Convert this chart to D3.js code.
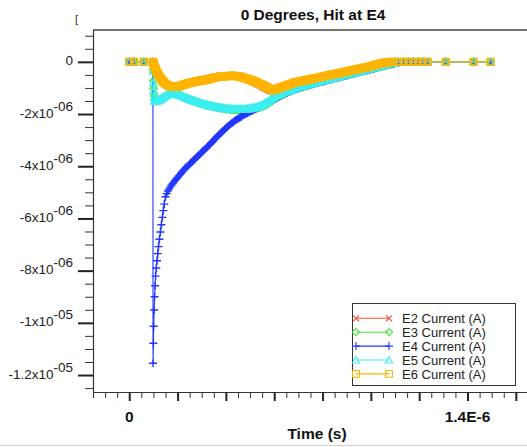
<!DOCTYPE html>
<html>
<head>
<meta charset="utf-8">
<script src="https://cdn.jsdelivr.net/npm/d3@7"></script>
<style>
  html, body { margin: 0; padding: 0; background: #fff; }
  svg { display: block; font-family: "Liberation Sans", Arial, Helvetica, sans-serif; }
</style>
</head>
<body>
<svg id="chart" width="527" height="447"></svg>
<script>
// Sample times (ns) shared by every electrode trace
const timeNs = [0, 20, 60, 98,
  98.5, 100, 101, 103, 105, 107, 109, 112, 115, 118, 121, 125, 129, 133, 137, 141, 145, 150,
  155, 160, 165, 170, 175, 180, 185, 190, 195, 200,
  205, 210, 215, 220, 225, 230, 235, 240, 245, 250,
  255, 260, 265, 270, 275, 280, 285, 290, 295, 300,
  305, 310, 315, 320, 325, 330, 335, 340, 345, 350,
  355, 360, 365, 370, 375, 380, 385, 390, 395, 400,
  405, 410, 415, 420, 425, 430, 435, 440, 445, 450,
  455, 460, 465, 470, 475, 480, 485, 490, 495, 500,
  505, 510, 515, 520, 525, 530, 535, 540, 545, 550,
  555, 560, 565, 570, 575, 580, 585, 590, 595, 600,
  607.5, 615, 622.5, 630, 637.5, 645, 652.5, 660, 667.5, 675,
  682.5, 690, 697.5, 705, 712.5, 720, 727.5, 735, 742.5, 750,
  757.5, 765, 772.5, 780, 787.5, 795, 802.5, 810, 817.5, 825,
  832.5, 840, 847.5, 855, 862.5, 870, 877.5, 885, 892.5, 900,
  907.5, 915, 922.5, 930, 937.5, 945, 952.5, 960, 967.5, 975,
  982.5, 990, 997.5, 1005, 1012.5, 1020, 1027.5, 1035, 1042.5, 1050,
  1057.5, 1065, 1072.5, 1080, 1087.5, 1095,
  1115, 1135, 1155, 1175, 1195, 1215, 1235, 1310, 1425, 1495];

// Electrode currents (µA)
const e2uA = [0, 0, 0, 0,
  -0.04, -0.07, -0.10, -0.15, -0.20, -0.25, -0.29, -0.35, -0.41, -0.46, -0.51, -0.57, -0.63, -0.68, -0.73, -0.77, -0.81, -0.85,
  -0.88, -0.91, -0.93, -0.95, -0.96, -0.97, -0.97, -0.97, -0.96, -0.95,
  -0.94, -0.92, -0.91, -0.89, -0.87, -0.85, -0.84, -0.82, -0.81, -0.79,
  -0.78, -0.77, -0.76, -0.75, -0.74, -0.73, -0.72, -0.71, -0.70, -0.69,
  -0.68, -0.67, -0.66, -0.65, -0.64, -0.63, -0.62, -0.60, -0.59, -0.58,
  -0.57, -0.56, -0.55, -0.54, -0.54, -0.53, -0.53, -0.52, -0.52, -0.51,
  -0.51, -0.51, -0.51, -0.51, -0.51, -0.52, -0.52, -0.53, -0.54, -0.55,
  -0.56, -0.57, -0.58, -0.60, -0.62, -0.64, -0.66, -0.68, -0.70, -0.72,
  -0.74, -0.76, -0.78, -0.80, -0.83, -0.85, -0.88, -0.90, -0.93, -0.95,
  -0.98, -1.00, -1.03, -1.05, -1.08, -1.10, -1.12, -1.13, -1.13, -1.12,
  -1.09, -1.06, -1.03, -1.00, -0.97, -0.94, -0.92, -0.89, -0.87, -0.84,
  -0.82, -0.80, -0.78, -0.76, -0.75, -0.73, -0.72, -0.70, -0.69, -0.67,
  -0.66, -0.64, -0.63, -0.62, -0.60, -0.59, -0.57, -0.56, -0.54, -0.53,
  -0.51, -0.50, -0.48, -0.47, -0.45, -0.44, -0.42, -0.41, -0.39, -0.38,
  -0.36, -0.35, -0.33, -0.32, -0.30, -0.29, -0.27, -0.26, -0.24, -0.23,
  -0.21, -0.20, -0.18, -0.16, -0.14, -0.13, -0.11, -0.09, -0.07, -0.06,
  -0.04, -0.03, -0.02, -0.01, 0, 0,
  0, 0, 0, 0, 0, 0, 0, 0, 0, 0];

const e3uA = [0, 0, 0, 0,
  -0.30, -0.72, -1.02, -1.30, -1.43, -1.48, -1.50, -1.51, -1.50, -1.49, -1.48, -1.47, -1.45, -1.43, -1.40, -1.37, -1.34, -1.31,
  -1.28, -1.26, -1.24, -1.23, -1.22, -1.22, -1.22, -1.23, -1.24, -1.26,
  -1.27, -1.29, -1.31, -1.33, -1.35, -1.37, -1.39, -1.41, -1.43, -1.44,
  -1.46, -1.48, -1.49, -1.51, -1.53, -1.54, -1.56, -1.57, -1.59, -1.60,
  -1.62, -1.63, -1.65, -1.66, -1.67, -1.68, -1.69, -1.70, -1.71, -1.72,
  -1.73, -1.74, -1.75, -1.76, -1.77, -1.77, -1.78, -1.79, -1.80, -1.80,
  -1.81, -1.81, -1.82, -1.82, -1.83, -1.83, -1.83, -1.83, -1.84, -1.84,
  -1.84, -1.84, -1.84, -1.84, -1.84, -1.84, -1.84, -1.83, -1.83, -1.82,
  -1.82, -1.81, -1.80, -1.79, -1.78, -1.77, -1.76, -1.75, -1.74, -1.72,
  -1.70, -1.68, -1.66, -1.63, -1.60, -1.57, -1.54, -1.50, -1.47, -1.43,
  -1.39, -1.35, -1.32, -1.28, -1.25, -1.21, -1.18, -1.15, -1.12, -1.09,
  -1.07, -1.04, -1.02, -0.99, -0.97, -0.95, -0.93, -0.91, -0.89, -0.87,
  -0.85, -0.83, -0.81, -0.79, -0.77, -0.75, -0.74, -0.72, -0.70, -0.68,
  -0.67, -0.65, -0.63, -0.61, -0.60, -0.58, -0.56, -0.54, -0.53, -0.51,
  -0.49, -0.47, -0.46, -0.44, -0.42, -0.40, -0.39, -0.37, -0.35, -0.33,
  -0.32, -0.30, -0.28, -0.26, -0.25, -0.23, -0.21, -0.19, -0.18, -0.16,
  -0.14, -0.12, -0.11, -0.09, -0.08, -0.06,
  -0.02, 0, 0, 0, 0, 0, 0, 0, 0, 0];

const e4uA = [0, 0, 0, 0,
  -11.55, -10.78, -10.13, -9.51, -9.00, -8.58, -8.21, -7.90, -7.62, -7.35, -7.08, -6.80, -6.52, -6.24, -5.96, -5.70, -5.45, -5.17,
  -5.05, -4.95, -4.87, -4.79, -4.72, -4.66, -4.60, -4.54, -4.48, -4.43,
  -4.37, -4.32, -4.26, -4.20, -4.15, -4.10, -4.05, -4.01, -3.96, -3.92,
  -3.87, -3.83, -3.78, -3.74, -3.69, -3.65, -3.60, -3.56, -3.51, -3.47,
  -3.42, -3.38, -3.33, -3.29, -3.24, -3.20, -3.15, -3.10, -3.05, -3.00,
  -2.95, -2.90, -2.85, -2.81, -2.76, -2.72, -2.67, -2.63, -2.58, -2.54,
  -2.50, -2.46, -2.42, -2.38, -2.34, -2.31, -2.27, -2.24, -2.21, -2.18,
  -2.15, -2.12, -2.09, -2.06, -2.03, -2.01, -1.98, -1.96, -1.93, -1.91,
  -1.88, -1.86, -1.84, -1.82, -1.79, -1.77, -1.74, -1.72, -1.70, -1.68,
  -1.65, -1.63, -1.60, -1.58, -1.55, -1.53, -1.50, -1.48, -1.45, -1.43,
  -1.40, -1.36, -1.33, -1.29, -1.26, -1.22, -1.19, -1.16, -1.13, -1.10,
  -1.07, -1.05, -1.02, -1.00, -0.98, -0.96, -0.94, -0.92, -0.90, -0.88,
  -0.86, -0.84, -0.82, -0.80, -0.78, -0.76, -0.75, -0.73, -0.71, -0.69,
  -0.68, -0.66, -0.64, -0.62, -0.61, -0.59, -0.57, -0.55, -0.54, -0.52,
  -0.50, -0.48, -0.47, -0.45, -0.43, -0.41, -0.40, -0.38, -0.36, -0.34,
  -0.33, -0.31, -0.29, -0.27, -0.26, -0.24, -0.22, -0.20, -0.19, -0.17,
  -0.15, -0.13, -0.12, -0.10, -0.09, -0.07,
  -0.03, -0.01, 0, 0, 0, 0, 0, 0, 0, 0];

const e5uA = [0, 0, 0, 0,
  -0.35, -0.80, -1.10, -1.35, -1.46, -1.49, -1.50, -1.50, -1.49, -1.48, -1.47, -1.46, -1.44, -1.42, -1.39, -1.36, -1.33, -1.30,
  -1.27, -1.25, -1.23, -1.22, -1.21, -1.21, -1.21, -1.22, -1.23, -1.25,
  -1.26, -1.28, -1.30, -1.32, -1.34, -1.36, -1.38, -1.40, -1.42, -1.43,
  -1.45, -1.47, -1.48, -1.50, -1.52, -1.53, -1.55, -1.56, -1.58, -1.59,
  -1.61, -1.62, -1.64, -1.65, -1.66, -1.67, -1.68, -1.69, -1.70, -1.71,
  -1.72, -1.73, -1.74, -1.75, -1.76, -1.76, -1.77, -1.78, -1.79, -1.79,
  -1.80, -1.80, -1.81, -1.81, -1.81, -1.82, -1.82, -1.82, -1.82, -1.82,
  -1.82, -1.82, -1.82, -1.82, -1.82, -1.81, -1.81, -1.80, -1.80, -1.79,
  -1.78, -1.77, -1.76, -1.75, -1.74, -1.73, -1.72, -1.70, -1.68, -1.66,
  -1.64, -1.61, -1.58, -1.55, -1.52, -1.48, -1.45, -1.41, -1.38, -1.34,
  -1.31, -1.28, -1.25, -1.22, -1.19, -1.16, -1.13, -1.10, -1.08, -1.05,
  -1.02, -1.00, -0.98, -0.96, -0.94, -0.92, -0.90, -0.88, -0.86, -0.84,
  -0.82, -0.80, -0.78, -0.77, -0.75, -0.73, -0.71, -0.70, -0.68, -0.66,
  -0.64, -0.63, -0.61, -0.59, -0.57, -0.56, -0.54, -0.52, -0.50, -0.49,
  -0.47, -0.45, -0.43, -0.42, -0.40, -0.38, -0.36, -0.35, -0.33, -0.31,
  -0.29, -0.28, -0.26, -0.24, -0.22, -0.21, -0.19, -0.17, -0.15, -0.14,
  -0.12, -0.10, -0.08, -0.07, -0.05, -0.04,
  -0.01, 0, 0, 0, 0, 0, 0, 0, 0, 0];

const e6uA = [0, 0, 0, 0,
  -0.03, -0.06, -0.09, -0.14, -0.19, -0.24, -0.28, -0.34, -0.40, -0.45, -0.50, -0.56, -0.62, -0.67, -0.72, -0.76, -0.80, -0.84,
  -0.87, -0.90, -0.92, -0.94, -0.95, -0.96, -0.96, -0.96, -0.96, -0.95,
  -0.94, -0.92, -0.91, -0.89, -0.88, -0.86, -0.85, -0.83, -0.82, -0.81,
  -0.80, -0.79, -0.78, -0.77, -0.76, -0.75, -0.74, -0.73, -0.72, -0.72,
  -0.71, -0.70, -0.69, -0.68, -0.67, -0.66, -0.65, -0.63, -0.62, -0.61,
  -0.60, -0.59, -0.58, -0.58, -0.57, -0.57, -0.56, -0.56, -0.55, -0.55,
  -0.55, -0.55, -0.54, -0.54, -0.54, -0.54, -0.54, -0.55, -0.55, -0.56,
  -0.56, -0.57, -0.58, -0.60, -0.61, -0.63, -0.64, -0.66, -0.67, -0.69,
  -0.70, -0.72, -0.74, -0.76, -0.78, -0.80, -0.82, -0.84, -0.86, -0.88,
  -0.90, -0.93, -0.95, -0.98, -1.00, -1.03, -1.05, -1.07, -1.08, -1.08,
  -1.06, -1.03, -1.00, -0.97, -0.95, -0.92, -0.90, -0.87, -0.85, -0.82,
  -0.80, -0.78, -0.77, -0.75, -0.74, -0.72, -0.71, -0.69, -0.68, -0.66,
  -0.65, -0.63, -0.62, -0.61, -0.59, -0.58, -0.56, -0.55, -0.53, -0.52,
  -0.50, -0.49, -0.47, -0.46, -0.44, -0.43, -0.41, -0.40, -0.38, -0.37,
  -0.35, -0.34, -0.32, -0.31, -0.29, -0.28, -0.26, -0.25, -0.23, -0.22,
  -0.20, -0.19, -0.17, -0.15, -0.13, -0.12, -0.10, -0.08, -0.06, -0.05,
  -0.03, -0.02, -0.01, -0.01, 0, 0,
  0, 0, 0, 0, 0, 0, 0, 0, 0, 0];

const seriesNames = ["E2 Current (A)", "E3 Current (A)", "E4 Current (A)", "E5 Current (A)", "E6 Current (A)"];
const seriesValues = [e2uA, e3uA, e4uA, e5uA, e6uA];
const seriesColors = ["#ff4a32", "#46e83a", "#2236ff", "#3ceef0", "#ffb400"];
const seriesMarkers = ["cross", "diamond", "plus", "triangle", "square"];

// Axis ticks and their labels
const yMajorTicks = [0, -2e-6, -4e-6, -6e-6, -8e-6, -1e-5, -1.2e-5];
const yTickBase = ["0", "-2x10", "-4x10", "-6x10", "-8x10", "-1x10", "-1.2x10"];
const yTickExp = ["", "-06", "-06", "-06", "-06", "-05", "-05"];
const xLabelValues = [0, 1.4e-6];
const xLabelTexts = ["0", "1.4E-6"];

const chartTitle = "0 Degrees, Hit at E4";
const xTitle = "Time (s)";

const svg = d3.select("#chart");
const W = 527;
const plot = { left: 93, top: 30, bottom: 392, right: 540 };

const x = d3.scaleLinear().domain([-1.5e-7, 1.7e-6]).range([plot.left, plot.right]);
const y = d3.scaleLinear().domain([1.22e-6, -1.265e-5]).range([plot.top, plot.bottom]);

const markerPath = {
  cross: "M-3,-3L3,3M-3,3L3,-3",
  diamond: "M0,-3.6L3.6,0L0,3.6L-3.6,0Z",
  plus: "M-4,0H4M0,-4V4",
  triangle: "M0,-3.6L3.6,3L-3.6,3Z",
  square: "M-3.4,-3.4H3.4V3.4H-3.4Z"
};

// bottom window rule
svg.append("line").attr("x1", 0).attr("x2", W).attr("y1", 445.5).attr("y2", 445.5)
  .attr("stroke", "#d0d0d0").attr("stroke-width", 1);

// Title and the clipped axis-label fragment at top-left
svg.append("text").attr("x", 313).attr("y", 20).attr("text-anchor", "middle")
  .attr("font-size", 15.5).attr("font-weight", "bold").attr("fill", "#111").text(chartTitle);
svg.append("text").attr("x", 75).attr("y", 23).attr("font-size", 11).attr("fill", "#333").text("[");

// Frame top edge
svg.append("line").attr("x1", plot.left).attr("x2", W).attr("y1", plot.top).attr("y2", plot.top)
  .attr("stroke", "#444").attr("stroke-width", 1.5);

// ---- Y axis ----
const yMinor = d3.range(-25, 3).map(k => k * 5e-7).filter(v => !yMajorTicks.some(m => Math.abs(m - v) < 1e-12));
const yAxisMinor = svg.append("g").attr("transform", `translate(${plot.left},0)`)
  .call(d3.axisLeft(y).tickValues(yMinor).tickSize(8).tickFormat(""));
yAxisMinor.select(".domain").remove();
yAxisMinor.selectAll(".tick line").attr("stroke", "#333").attr("stroke-width", 1);

const yAxisMajor = svg.append("g").attr("transform", `translate(${plot.left},0)`)
  .call(d3.axisLeft(y).tickValues(yMajorTicks).tickSize(15).tickSizeOuter(0).tickFormat(""));
yAxisMajor.select(".domain").attr("stroke", "#333").attr("stroke-width", 1.2);
yAxisMajor.selectAll(".tick line").attr("stroke", "#222").attr("stroke-width", 2);

const yLab = svg.append("g").attr("font-size", 13.5).attr("fill", "#222");
yMajorTicks.forEach((v, i) => {
  const t = yLab.append("text").attr("x", 73).attr("y", y(v) + 3.5).attr("text-anchor", "end");
  t.append("tspan").text(yTickBase[i]);
  if (yTickExp[i]) t.append("tspan").attr("dy", -7).text(yTickExp[i]);
});

// ---- X axis ----
const xMajor = d3.range(0, 9).map(k => k * 2e-7);
const xMinor = d3.range(-3, 34).map(k => k * 5e-8).filter(v => !xMajor.some(m => Math.abs(m - v) < 1e-12));
const xAxisMinor = svg.append("g").attr("transform", `translate(0,${plot.bottom})`)
  .call(d3.axisBottom(x).tickValues(xMinor).tickSize(6).tickFormat(""));
xAxisMinor.select(".domain").remove();
xAxisMinor.selectAll(".tick line").attr("stroke", "#333").attr("stroke-width", 1);

const xAxisMajor = svg.append("g").attr("transform", `translate(0,${plot.bottom})`)
  .call(d3.axisBottom(x).tickValues(xMajor).tickSize(9).tickSizeOuter(0).tickFormat(""));
xAxisMajor.select(".domain").attr("stroke", "#333").attr("stroke-width", 1.2);
xAxisMajor.selectAll(".tick line").attr("stroke", "#222").attr("stroke-width", 2);

const xLab = svg.append("g").attr("font-size", 15.5).attr("font-weight", "bold").attr("fill", "#111")
  .attr("text-anchor", "middle");
xLabelValues.forEach((v, i) => {
  xLab.append("text").attr("x", x(v)).attr("y", 422).text(xLabelTexts[i]);
});
svg.append("text").attr("x", 317).attr("y", 439).attr("text-anchor", "middle")
  .attr("font-size", 15.5).attr("font-weight", "bold").attr("fill", "#111").text(xTitle);

// ---- Data ----
svg.append("clipPath").attr("id", "plotClip").append("rect")
  .attr("x", plot.left).attr("y", plot.top).attr("width", plot.right - plot.left).attr("height", plot.bottom - plot.top);

const series = seriesNames.map((name, i) => ({
  name,
  color: seriesColors[i],
  marker: seriesMarkers[i],
  points: seriesValues[i].map((v, j) => ({ t: timeNs[j] * 1e-9, v: v * 1e-6 }))
}));

const line = d3.line().x(d => x(d.t)).y(d => y(d.v));
const dataG = svg.append("g").attr("clip-path", "url(#plotClip)");

series.forEach(s => {
  const g = dataG.append("g");
  g.append("path").datum(s.points).attr("d", line)
    .attr("fill", "none").attr("stroke", s.color).attr("stroke-width", 1.1);
  g.selectAll("path.mk").data(s.points).join("path").attr("class", "mk")
    .attr("transform", d => `translate(${x(d.t)},${y(d.v)})`)
    .attr("d", markerPath[s.marker])
    .attr("fill", "none").attr("stroke", s.color).attr("stroke-width", 1.4);
});

// ---- Legend ----
const lg = svg.append("g");
lg.append("rect").attr("x", 352.5).attr("y", 303.5).attr("width", 163).attr("height", 82)
  .attr("fill", "#fff").attr("stroke", "#333").attr("stroke-width", 1);
series.forEach((s, i) => {
  const cy = 318.3 + i * 13.9;
  lg.append("line").attr("x1", 356).attr("x2", 389).attr("y1", cy).attr("y2", cy)
    .attr("stroke", s.color).attr("stroke-width", 1.1);
  [356, 389].forEach(mx => {
    lg.append("path").attr("transform", `translate(${mx},${cy})`).attr("d", markerPath[s.marker])
      .attr("fill", "none").attr("stroke", s.color).attr("stroke-width", 1.1);
  });
  lg.append("text").attr("x", 402).attr("y", cy + 4.6).attr("font-size", 13).attr("fill", "#222").text(s.name);
});
</script>
</body>
</html>
